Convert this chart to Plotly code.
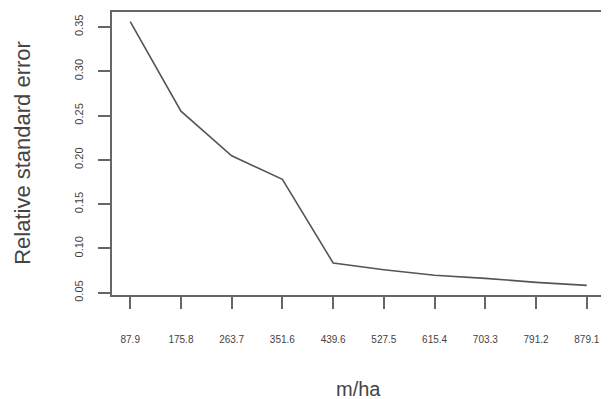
import plotly.graph_objects as go

x_vals = [87.9, 175.8, 263.7, 351.6, 439.6, 527.5, 615.4, 703.3, 791.2, 879.1]
x_labels = ["87.9", "175.8", "263.7", "351.6", "439.6", "527.5", "615.4", "703.3", "791.2", "879.1"]
rse = [0.356, 0.255, 0.2045, 0.178, 0.0835, 0.076, 0.0697, 0.0662, 0.0617, 0.0583]
y_ticks = [0.05, 0.10, 0.15, 0.20, 0.25, 0.30, 0.35]
y_labels = ["0.05", "0.10", "0.15", "0.20", "0.25", "0.30", "0.35"]

FONT = "Liberation Sans, Arial, sans-serif"
# the page body adds an 8px offset; compensate by a slightly smaller figure
W, H = 601, 391
ML, MR, MT, MB = 104, 2, 3, 104
plot_w = W - ML - MR
plot_h = H - MT - MB

fig = go.Figure()
fig.add_trace(go.Scatter(x=x_vals, y=rse, mode="lines",
                         line=dict(color="#555555", width=1.6), showlegend=False))

axis_common = dict(showline=True, mirror=True, linecolor="#666666", linewidth=1.5,
                   ticks="outside", ticklen=12, tickwidth=1.5, tickcolor="#666666",
                   showgrid=False, zeroline=False)

fig.update_layout(
    width=W, height=H,
    margin=dict(l=ML, r=MR, t=MT, b=MB),
    paper_bgcolor="white", plot_bgcolor="white",
    xaxis=dict(range=[56.3, 910.7], tickvals=x_vals, ticktext=x_labels,
               ticklabelstandoff=22,
               tickfont=dict(family=FONT, size=10, color="#3f3f3f"), **axis_common),
    yaxis=dict(range=[0.0474, 0.3669], tickvals=y_ticks, ticktext=y_labels,
               tickangle=-90, ticklabelstandoff=11,
               tickfont=dict(family=FONT, size=11, color="#3f3f3f"), **axis_common),
    annotations=[
        dict(text="m/ha", xref="paper", yref="paper", showarrow=False,
             x=0.5, xanchor="center",
             y=(H - MB - (389 - 8)) / plot_h, yanchor="middle",
             font=dict(family=FONT, size=20, color="#444444")),
        dict(text="Relative standard error", xref="paper", yref="paper",
             showarrow=False, textangle=-90,
             x=((21.5 - 8) - ML) / plot_w, xanchor="center",
             y=(H - MB - (152.5 - 8)) / plot_h, yanchor="middle",
             font=dict(family=FONT, size=22, color="#444444")),
    ],
)

fig.write_html("out.html")
